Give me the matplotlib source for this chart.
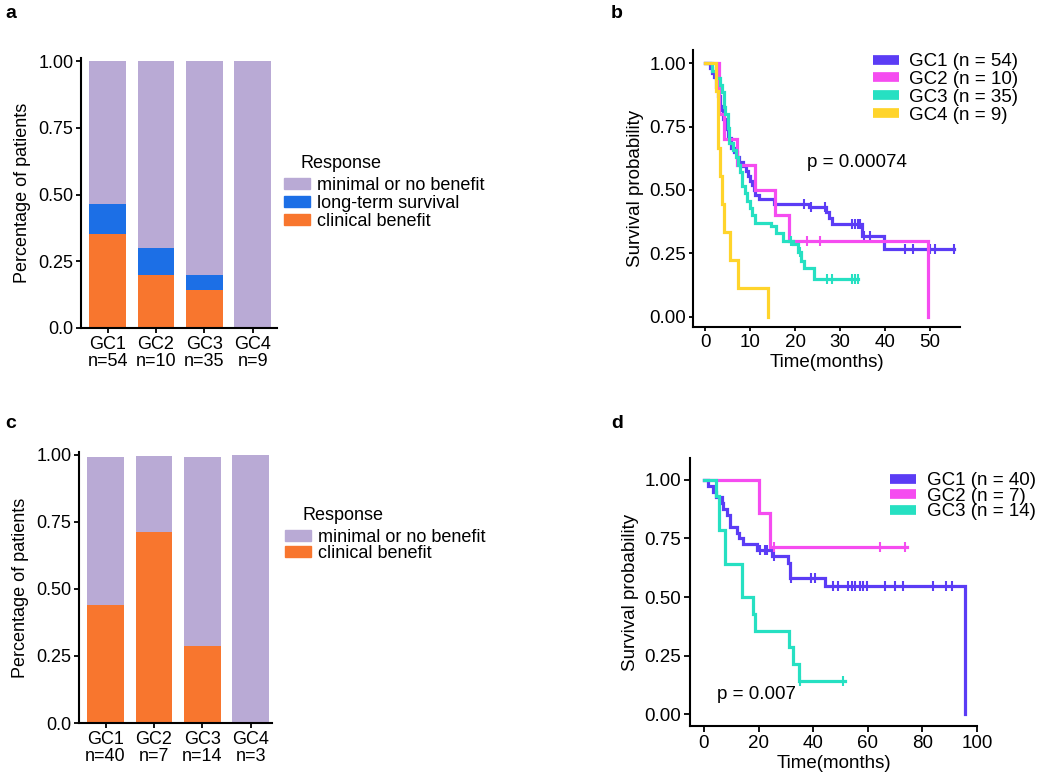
import numpy as np
import matplotlib.pyplot as plt
from matplotlib.patches import Patch
from matplotlib.lines import Line2D

plt.rcParams['font.family'] = ['Liberation Sans', 'DejaVu Sans']

W, H = 1050, 782

# ---------------------------------------------------------
# Data
# ---------------------------------------------------------
groups = ['GC1', 'GC2', 'GC3', 'GC4']

# panel a: response, training cohort
n_a = [54, 10, 35, 9]
clinical_a = [0.352, 0.200, 0.143, 0.0]
longterm_a = [0.111, 0.100, 0.057, 0.0]
minimal_a = [0.537, 0.700, 0.800, 1.0]

# panel c: response, validation cohort
n_c = [40, 7, 14, 3]
clinical_c = [0.440, 0.710, 0.286, 0.0]
minimal_c = [0.550, 0.285, 0.707, 1.0]

# panel b: Kaplan-Meier steps (time, survival), last time, censor times
b_gc1_t = [0, 1.0, 1.5, 2.0, 2.4, 2.8, 3.2, 3.6, 4.0, 4.4, 5.0, 5.8, 6.5, 7.0, 7.6,
           8.4, 9.2, 9.6, 10.0, 10.4, 10.8, 11.2, 12.0, 15.4, 23.0, 26.9, 27.5,
           28.3, 34.8, 39.7]
b_gc1_s = [1.0, 0.981, 0.963, 0.944, 0.907, 0.870, 0.833, 0.815, 0.778, 0.741,
           0.704, 0.667, 0.648, 0.630, 0.611, 0.593, 0.574, 0.556, 0.537, 0.519,
           0.500, 0.481, 0.463, 0.444, 0.432, 0.412, 0.390, 0.365, 0.320, 0.268]
b_gc1_end = 55.4
b_gc1_cens = [22.0, 23.6, 26.6, 32.6, 33.3, 34.0, 34.4, 35.4, 36.7, 44.4, 46.3,
              50.0, 51.2, 55.4]

b_gc2_t = [0, 3.0, 4.2, 7.0, 11.0, 15.5, 18.6, 49.6]
b_gc2_s = [1.0, 0.8, 0.7, 0.6, 0.5, 0.4, 0.3, 0.0]
b_gc2_end = 49.6
b_gc2_cens = [22.6, 25.5]

b_gc3_t = [0, 1.5, 2.5, 3.2, 3.7, 4.1, 4.5, 5.0, 5.3, 6.3, 6.8, 7.2, 7.8, 8.2, 8.8,
           9.4, 9.9, 10.5, 11.2, 14.6, 15.8, 17.4, 19.6, 20.6, 21.3, 22.0, 24.2]
b_gc3_s = [1.0, 0.971, 0.943, 0.914, 0.886, 0.829, 0.800, 0.743, 0.686, 0.657,
           0.629, 0.600, 0.571, 0.514, 0.486, 0.457, 0.429, 0.400, 0.371, 0.357,
           0.330, 0.300, 0.285, 0.255, 0.220, 0.190, 0.150]
b_gc3_end = 34.0
b_gc3_cens = [19.0, 21.0, 27.0, 28.2, 32.6, 33.4, 34.0]

b_gc4_t = [0, 2.5, 2.8, 3.3, 3.8, 4.2, 5.5, 7.2, 14.0]
b_gc4_s = [1.0, 0.889, 0.667, 0.556, 0.444, 0.333, 0.222, 0.111, 0.0]
b_gc4_end = 14.0
b_gc4_cens = []

b_labels = ['GC1 (n = 54)', 'GC2 (n = 10)', 'GC3 (n = 35)', 'GC4 (n = 9)']

# panel d
d_gc1_t = [0, 1.6, 3.4, 4.6, 6.5, 7.1, 8.6, 9.5, 12.0, 12.8, 14.4, 19.3, 24.8,
           30.9, 31.5, 44.5, 95.6]
d_gc1_s = [1.0, 0.975, 0.95, 0.925, 0.90, 0.875, 0.85, 0.80, 0.775, 0.75, 0.725,
           0.70, 0.675, 0.645, 0.58, 0.545, 0.0]
d_gc1_end = 95.6
d_gc1_cens = [20.5, 22.3, 23.2, 25.6, 32.0, 39.1, 40.7, 47.4, 49.2, 52.9, 54.1,
              55.3, 57.1, 58.4, 59.6, 66.3, 69.9, 72.8, 84.0, 88.6, 90.7]

d_gc2_t = [0, 20.3, 24.2]
d_gc2_s = [1.0, 0.857, 0.714]
d_gc2_end = 74.5
d_gc2_cens = [25.6, 64.5, 73.8]

d_gc3_t = [0, 4.6, 5.6, 7.8, 14.0, 18.0, 18.8, 31.3, 32.5, 34.9]
d_gc3_s = [1.0, 0.929, 0.786, 0.643, 0.50, 0.429, 0.357, 0.286, 0.214, 0.143]
d_gc3_end = 51.6
d_gc3_cens = [35.2, 51.0]

d_labels = ['GC1 (n = 40)', 'GC2 (n = 7)', 'GC3 (n = 14)']

# ---------------------------------------------------------
# Style
# ---------------------------------------------------------
C_MIN = '#B9AAD5'
C_LTS = '#1C6FE6'
C_CB = '#F8762E'
KM_COLS = ['#5B3CF5', '#F54CF0', '#26E0C2', '#FFD42B']
FS_BAR = 13
FS_KM = 13.5


def px_axes(fig, x0, x1, ytop, ybot):
    return fig.add_axes([x0 / W, 1 - ybot / H, (x1 - x0) / W, (ybot - ytop) / H])


def style_axes(ax, fs, ticklen=3.5):
    for side in ['top', 'right']:
        ax.spines[side].set_visible(False)
    for side in ['left', 'bottom']:
        ax.spines[side].set_linewidth(1.5)
    ax.tick_params(width=1.3, length=ticklen, labelsize=fs, colors='black', pad=2)


def km_plot(ax, curves, lw=2.3):
    for (t, s, end, cens), col in zip(curves, KM_COLS):
        t = np.array(t, dtype=float)
        s = np.array(s, dtype=float)
        ax.step(np.append(t, end), np.append(s, s[-1]), where='post',
                color=col, lw=lw, solid_joinstyle='miter')
        if len(cens):
            c = np.array(cens)
            cy = s[np.searchsorted(t, c, side='right') - 1]
            ax.plot(c, cy, ls='none', marker='|', ms=7, mew=1.5, color=col)


fig = plt.figure(figsize=(W / 100, H / 100), dpi=100)

# ---------------------------------------------------------
# Panel a
# ---------------------------------------------------------
pos = np.arange(1, 5)
bw = 0.76
ax_a = px_axes(fig, 81, 277, 58, 328)
ax_a.bar(pos, clinical_a, bw, color=C_CB, lw=0)
ax_a.bar(pos, longterm_a, bw, bottom=clinical_a, color=C_LTS, lw=0)
ax_a.bar(pos, minimal_a, bw, bottom=np.add(clinical_a, longterm_a), color=C_MIN, lw=0)
ax_a.set_xlim(0.45, 4.5)
ax_a.set_ylim(0, 1.012)
ax_a.set_yticks([0, 0.25, 0.5, 0.75, 1.0])
ax_a.set_yticklabels(['0.0', '0.25', '0.50', '0.75', '1.00'])
ax_a.set_xticks(pos)
ax_a.set_xticklabels([f'{g}\nn={n}' for g, n in zip(groups, n_a)], linespacing=1.05)
ax_a.set_ylabel('Percentage of patients', fontsize=FS_BAR, labelpad=5)
style_axes(ax_a, FS_BAR)

handles_a = [Patch(color=C_MIN, label='minimal or no benefit'),
             Patch(color=C_LTS, label='long-term survival'),
             Patch(color=C_CB, label='clinical benefit')]
fig.legend(handles=handles_a, loc='upper left', bbox_to_anchor=(284 / W, 1 - 177 / H),
           frameon=False, fontsize=FS_BAR, borderpad=0, borderaxespad=0,
           handlelength=1.45, handleheight=0.55, handletextpad=0.37, labelspacing=0.05)
fig.text(301 / W, 1 - 163 / H, 'Response', fontsize=FS_BAR, va='center', ha='left')

# ---------------------------------------------------------
# Panel c
# ---------------------------------------------------------
ax_c = px_axes(fig, 79, 272, 452, 723)
ax_c.bar(pos, clinical_c, bw, color=C_CB, lw=0)
ax_c.bar(pos, minimal_c, bw, bottom=clinical_c, color=C_MIN, lw=0)
ax_c.set_xlim(0.45, 4.44)
ax_c.set_ylim(0, 1.01)
ax_c.set_yticks([0, 0.25, 0.5, 0.75, 1.0])
ax_c.set_yticklabels(['0.0', '0.25', '0.50', '0.75', '1.00'])
ax_c.set_xticks(pos)
ax_c.set_xticklabels([f'{g}\nn={n}' for g, n in zip(groups, n_c)], linespacing=1.05)
ax_c.set_ylabel('Percentage of patients', fontsize=FS_BAR, labelpad=5)
style_axes(ax_c, FS_BAR)

handles_c = [Patch(color=C_MIN, label='minimal or no benefit'),
             Patch(color=C_CB, label='clinical benefit')]
fig.legend(handles=handles_c, loc='upper left', bbox_to_anchor=(285 / W, 1 - 529 / H),
           frameon=False, fontsize=FS_BAR, borderpad=0, borderaxespad=0,
           handlelength=1.45, handleheight=0.55, handletextpad=0.37, labelspacing=-0.05)
fig.text(302 / W, 1 - 515 / H, 'Response', fontsize=FS_BAR, va='center', ha='left')

# ---------------------------------------------------------
# Panel b
# ---------------------------------------------------------
ax_b = px_axes(fig, 693, 960, 50, 327)
km_plot(ax_b, [(b_gc1_t, b_gc1_s, b_gc1_end, b_gc1_cens),
               (b_gc2_t, b_gc2_s, b_gc2_end, b_gc2_cens),
               (b_gc3_t, b_gc3_s, b_gc3_end, b_gc3_cens),
               (b_gc4_t, b_gc4_s, b_gc4_end, b_gc4_cens)])
ax_b.set_xlim(-2.7, 56.7)
ax_b.set_ylim(-0.041, 1.052)
ax_b.set_xticks([0, 10, 20, 30, 40, 50])
ax_b.set_yticks([0, 0.25, 0.5, 0.75, 1.0])
ax_b.set_yticklabels(['0.00', '0.25', '0.50', '0.75', '1.00'])
ax_b.set_xlabel('Time(months)', fontsize=FS_KM, labelpad=2)
ax_b.set_ylabel('Survival probability', fontsize=FS_KM, labelpad=4)
style_axes(ax_b, FS_KM, ticklen=3)
ax_b.text(22.6, 0.61, 'p = 0.00074', fontsize=FS_KM, va='center', ha='left')

handles_b = [Line2D([], [], color=c, lw=7, solid_capstyle='butt') for c in KM_COLS]
fig.legend(handles=handles_b, labels=b_labels, loc='upper left',
           bbox_to_anchor=(873 / W, 1 - 53 / H), frameon=False, fontsize=FS_KM,
           borderpad=0, borderaxespad=0, handlelength=1.4, handletextpad=0.5,
           labelspacing=0.04)

# ---------------------------------------------------------
# Panel d
# ---------------------------------------------------------
ax_d = px_axes(fig, 690, 977, 458, 726)
km_plot(ax_d, [(d_gc1_t, d_gc1_s, d_gc1_end, d_gc1_cens),
               (d_gc2_t, d_gc2_s, d_gc2_end, d_gc2_cens),
               (d_gc3_t, d_gc3_s, d_gc3_end, d_gc3_cens)])
ax_d.set_xlim(-5.1, 100)
ax_d.set_ylim(-0.05, 1.093)
ax_d.set_xticks([0, 20, 40, 60, 80, 100])
ax_d.set_yticks([0, 0.25, 0.5, 0.75, 1.0])
ax_d.set_yticklabels(['0.00', '0.25', '0.50', '0.75', '1.00'])
ax_d.set_xlabel('Time(months)', fontsize=FS_KM, labelpad=2)
ax_d.set_ylabel('Survival probability', fontsize=FS_KM, labelpad=4)
style_axes(ax_d, FS_KM, ticklen=4.5)
ax_d.text(4.9, 0.083, 'p = 0.007', fontsize=FS_KM, va='center', ha='left')

handles_d = [Line2D([], [], color=c, lw=7, solid_capstyle='butt') for c in KM_COLS[:3]]
fig.legend(handles=handles_d, labels=d_labels, loc='upper left',
           bbox_to_anchor=(890 / W, 1 - 472 / H), frameon=False, fontsize=FS_KM,
           borderpad=0, borderaxespad=0, handlelength=1.4, handletextpad=0.57,
           labelspacing=-0.08)

# panel letters
for lab, x, y in [('a', 11, 14), ('b', 617, 14), ('c', 11, 424), ('d', 617, 424)]:
    fig.text(x / W, 1 - y / H, lab, fontsize=14, fontweight='bold', va='center', ha='center')

fig.savefig('out.png', dpi=100)
